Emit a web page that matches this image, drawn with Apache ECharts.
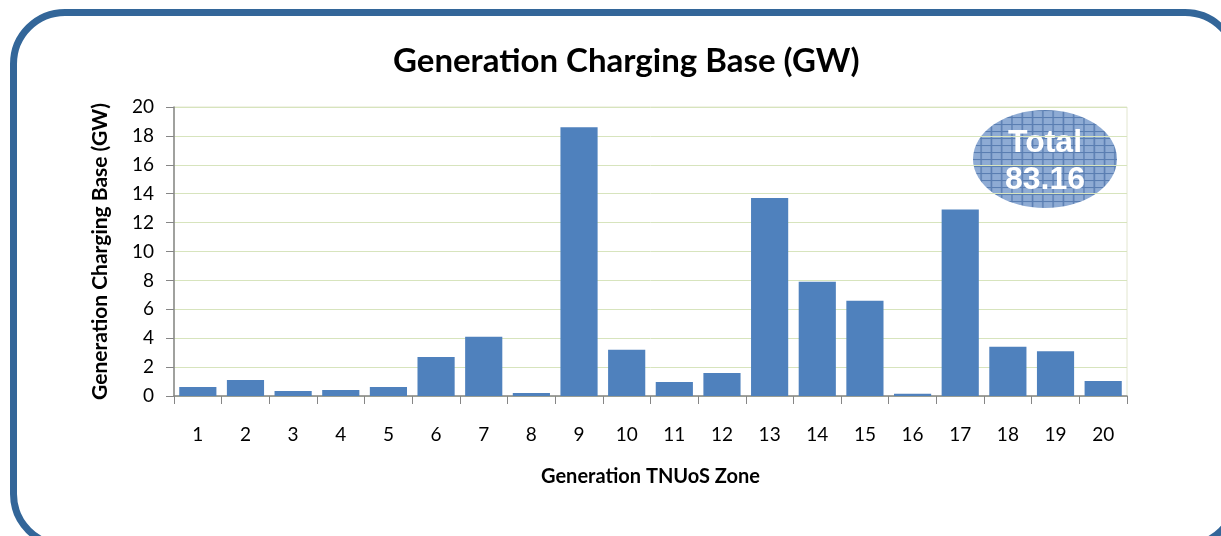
<!DOCTYPE html>
<html>
<head>
<meta charset="utf-8">
<script src="https://cdn.jsdelivr.net/npm/echarts@6/dist/echarts.min.js"></script>
<style>
  html, body { margin: 0; padding: 0; background: #fff; overflow: hidden; }
  #wrap { position: relative; width: 1221px; height: 536px; }
  #frame {
    position: absolute; left: 10px; top: 9px; width: 1230px; height: 540px;
    border: 7px solid #336699; border-radius: 55px; box-sizing: border-box;
  }
  #chart { position: absolute; left: 0; top: 0; width: 1221px; height: 536px; }
</style>
</head>
<body>
<div id="wrap">
  <div id="frame"></div>
  <div id="chart"></div>
</div>
<script>
// zones and values (GW)
const zones = ['1', '2', '3', '4', '5', '6', '7', '8', '9', '10',
               '11', '12', '13', '14', '15', '16', '17', '18', '19', '20'];
const chargingBase = [0.62, 1.1, 0.35, 0.42, 0.62, 2.7, 4.1, 0.2, 18.6, 3.2,
                      0.97, 1.6, 13.7, 7.9, 6.6, 0.15, 12.9, 3.4, 3.1, 1.04];
const totalLabel = ['Total', '83.16'];

window.addEventListener('load', function () {
    let myChart = echarts.init(document.querySelector('#chart'), null, { renderer: 'canvas' });

    // hatch pattern for the "Total" bubble
    const pat = document.createElement('canvas');
    pat.width = 7; pat.height = 7;
    const ctx = pat.getContext('2d');
    ctx.fillStyle = '#8eabd4';
    ctx.fillRect(0, 0, 7, 7);
    ctx.fillStyle = '#5a7eb2';
    ctx.fillRect(0, 0, 7, 1);
    ctx.fillRect(0, 0, 1, 7);

    const font = 'Lato, "Open Sans", sans-serif';

    let option = {
        backgroundColor: 'transparent',
        animation: false,
        title: {
            text: 'Generation Charging Base (GW)',
            left: 388,
            top: 40,
            textStyle: { fontFamily: font, fontWeight: 'bold', fontSize: 33, color: '#000' }
        },
        grid: {
            left: 174, right: 94, top: 107, bottom: 140,
            show: true, borderColor: '#e2e6cf', borderWidth: 1
        },
        xAxis: {
            type: 'category',
            data: zones,
            name: 'Generation TNUoS Zone',
            nameLocation: 'middle',
            nameGap: 71,
            nameTextStyle: { fontFamily: font, fontWeight: 'bold', fontSize: 20, color: '#000' },
            axisLine: { lineStyle: { color: '#868686', width: 1.5 } },
            axisTick: { show: true, length: 8, lineStyle: { color: '#868686' } },
            axisLabel: { margin: 29, fontFamily: font, fontSize: 19, color: '#000' }
        },
        yAxis: {
            type: 'value',
            min: 0, max: 20, interval: 2,
            name: 'Generation Charging Base (GW)',
            nameLocation: 'middle',
            nameGap: 63,
            nameTextStyle: { fontFamily: font, fontWeight: 'bold', fontSize: 21, color: '#000' },
            axisLine: { show: true, lineStyle: { color: '#868686', width: 1.5 } },
            axisTick: { show: true, length: 8, lineStyle: { color: '#868686' } },
            axisLabel: { margin: 20, fontFamily: font, fontSize: 19, color: '#000' },
            splitLine: { lineStyle: { color: '#d7e4bd' } }
        },
        series: [{
            type: 'bar',
            data: chargingBase,
            barCategoryGap: '22%',
            itemStyle: { color: '#4f81bd' }
        }],
        graphic: [{
            type: 'group',
            left: 973, top: 110,
            children: [{
                type: 'circle',
                shape: { cx: 72, cy: 49, r: 49 },
                scaleX: 72 / 49,
                originX: 72, originY: 49,
                style: { fill: { image: pat, repeat: 'repeat' } }
            }, {
                type: 'text',
                x: 72, y: 33,
                style: {
                    text: totalLabel[0], fill: '#fff', align: 'center', verticalAlign: 'middle',
                    font: 'bold 32px "Liberation Sans", Arial, sans-serif'
                }
            }, {
                type: 'text',
                x: 72, y: 70,
                style: {
                    text: totalLabel[1], fill: '#fff', align: 'center', verticalAlign: 'middle',
                    font: 'bold 32px "Liberation Sans", Arial, sans-serif'
                }
            }]
        }]
    };

    myChart.setOption(option);
});
</script>
</body>
</html>
